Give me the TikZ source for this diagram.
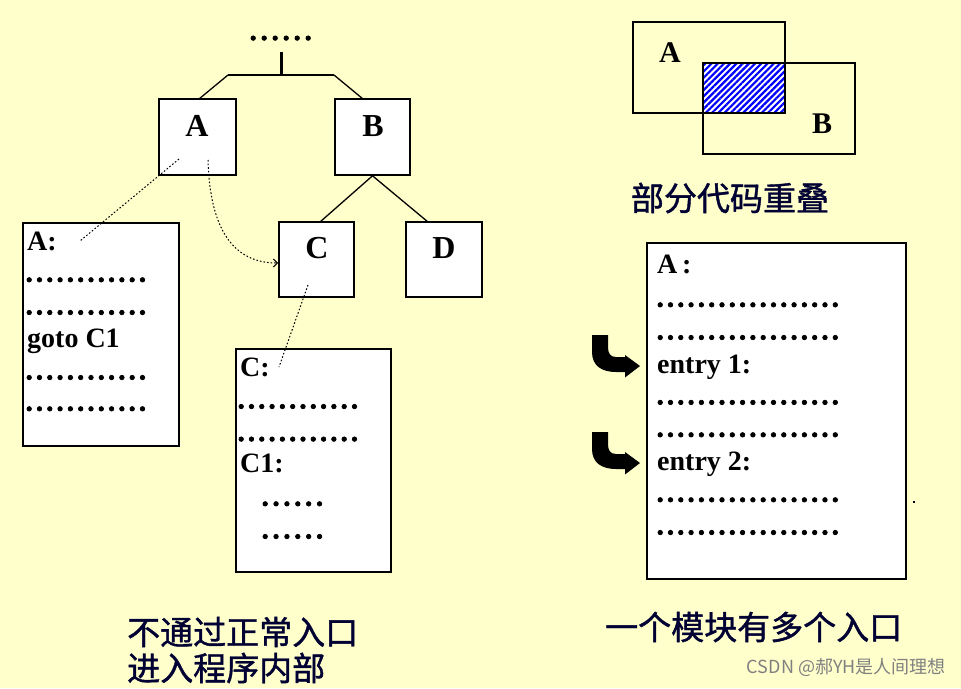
\documentclass[tikz,border=0pt]{standalone}
\usepackage{fontspec}
\setmainfont{Liberation Serif}
\newfontfamily\dotfont[BoldFeatures={FakeBold=2.5}]{Liberation Serif}
\newfontfamily\cjk{Noto Sans CJK SC}
\newfontfamily\cjkb[FakeBold=1.2]{Noto Sans CJK SC}
\usetikzlibrary{patterns.meta,arrows.meta}
\definecolor{bgyel}{HTML}{FFFFCC}
\definecolor{navy}{HTML}{000033}
\newcount\dotcnt
\newcommand\dotrow[2][10.3pt]{\dotcnt=0 \loop\makebox[#1][l]{.}\advance\dotcnt by 1 \ifnum\dotcnt<#2\repeat}
\begin{document}
\begin{tikzpicture}[x=1pt,y=-1pt,
  box/.style={draw,fill=white,line width=1.6pt,inner sep=0pt},
  boxlab/.style={inner sep=0pt,font=\fontsize{32}{36}\selectfont\bfseries},
  code/.style={anchor=base west,inner sep=0pt,font=\fontsize{28}{32}\selectfont\bfseries},
  dotline/.style={anchor=base west,inner sep=0pt,font=\dotfont\fontsize{28}{32}\selectfont\bfseries},
  cn/.style={inner sep=0pt,text=navy,font=\cjkb\fontsize{33}{38}\selectfont},
  tree/.style={line width=1.3pt},
  conn/.style={line width=1pt,dash pattern=on 1.6pt off 2pt}]
% background
\fill[bgyel] (0,0) rectangle (961,688);
\useasboundingbox (0,0) rectangle (961,688);

% ---------- tree ----------
\node[dotline] (topdots) at (249.5,40) {\dotrow[11pt]{6}};
\coordinate (top) at (281,52);
\coordinate (j) at (281,75);
\coordinate (jl) at (228,75);
\coordinate (jr) at (334,75);
\node[box,minimum width=77pt,minimum height=76pt] (A) at (197.5,137) {};
\node[box,minimum width=75pt,minimum height=76pt] (B) at (372.5,137) {};
\node[box,minimum width=75pt,minimum height=75pt] (C) at (316.5,259.5) {};
\node[box,minimum width=76pt,minimum height=75pt] (D) at (444,259.5) {};
\node[boxlab] (Al) at (197,126) {A};
\node[boxlab] (Bl) at (373,126) {B};
\node[boxlab] (Cl) at (317,248) {C};
\node[boxlab] (Dl) at (444,248) {D};
\coordinate (Bin) at (363,99);
\coordinate (Ain) at (199,99);
\coordinate (Cin) at (320,222);
\coordinate (Din) at (428,222);
\draw[line width=3pt] (top) -- (j);
\draw[line width=2.6pt] (jl) -- (jr);
\draw[tree] (jl) -- (Ain);
\draw[tree] (jr) -- (Bin);
\draw[tree] (B.south) -- (Cin);
\draw[tree] (B.south) -- (Din);

% ---------- code boxes ----------
\node[box,minimum width=156pt,minimum height=223pt] (LA) at (101,334.5) {};
\node[box,minimum width=155pt,minimum height=223pt] (LC) at (313.5,460.5) {};
\node[box,minimum width=259pt,minimum height=336pt] (RA) at (776.5,411) {};

\node[code] (la1) at (27,250) {A:};
\node[dotline] (la2) at (25.5,281.7) {\dotrow{12}};
\node[dotline] (la3) at (25.5,314.4) {\dotrow{12}};
\node[code] (la4) at (27,347) {goto C1};
\node[dotline] (la5) at (25.5,379.4) {\dotrow{12}};
\node[dotline] (la6) at (25.5,410.7) {\dotrow{12}};

\node[code] (lc1) at (240,376) {C:};
\node[dotline] (lc2) at (237.5,408.4) {\dotrow{12}};
\node[dotline] (lc3) at (237.5,441) {\dotrow{12}};
\node[code] (lc4) at (240,472) {C1:};
\node[dotline] (lc5) at (261.5,505.7) {\dotrow[10.87pt]{6}};
\node[dotline] (lc6) at (261.5,538.4) {\dotrow[10.87pt]{6}};

\node[code] (ra1) at (657,273) {A\,:};
\node[dotline] (ra2) at (656.5,306.7) {\dotrow{18}};
\node[dotline] (ra3) at (656.5,339.4) {\dotrow{18}};
\node[code] (ra4) at (657,373) {entry 1:};
\node[dotline] (ra5) at (656.5,404.3) {\dotrow{18}};
\node[dotline] (ra6) at (656.5,436.7) {\dotrow{18}};
\node[code] (ra7) at (657,470) {entry 2:};
\node[dotline] (ra8) at (656.5,501.7) {\dotrow{18}};
\node[dotline] (ra9) at (656.5,534.4) {\dotrow{18}};
\fill (913,501) rectangle (915,503);

% ---------- dotted connectors ----------
\coordinate (a1) at (179,159);
\coordinate (a2) at (80,241);
\coordinate (a3) at (208,160);
\coordinate (c1) at (278,263);
\coordinate (c2) at (308,285);
\coordinate (c3) at (279,367);
\draw[conn] (a1) -- (a2);
\draw[conn,-{Straight Barb[length=4pt,width=8pt]}] (a3) .. controls (210,232) and (235,263) .. (c1);
\draw[conn] (c2) -- (c3);

% ---------- entry arrows ----------
\foreach \dy in {0,97}{
  \fill[shift={(0,\dy)}] (592,335) -- (592,352) .. controls (592,366) and (602,372) .. (616,372)
    -- (625,372) -- (625,377.5) -- (640,366) -- (625,355) -- (625,357) -- (616,357)
    .. controls (610,357) and (608,353) .. (608,347) -- (608,335) -- cycle;
}

% ---------- overlap ----------
\draw[line width=1.4pt] (633,22) rectangle (785,113);
\draw[line width=1.4pt] (703,63) rectangle (855,154);
\fill[white] (703,63) rectangle (785,113);
\fill[pattern={Lines[angle=45,distance=4.4pt,line width=2.2pt]},pattern color=blue] (703,63) rectangle (785,113);
\draw[line width=2pt] (703,63) rectangle (785,113);
\node[boxlab,font=\fontsize{30}{34}\selectfont\bfseries] (oA) at (670,53) {A};
\node[boxlab,font=\fontsize{30}{34}\selectfont\bfseries] (oB) at (822,124) {B};

% ---------- captions ----------
\node[cn] (cap1) at (730,198) {部分代码重叠};
\node[cn,anchor=west] (cap2) at (127,632) {不通过正常入口};
\node[cn,anchor=west] (cap3) at (127,668) {进入程序内部};
\node[cn,anchor=west] (cap4) at (605,627) {一个模块有多个入口};
\node[inner sep=0pt,anchor=east,text=gray,font=\cjk\fontsize{18}{20}\selectfont] (wm) at (946,668) {CSDN @郝YH是人间理想};
\end{tikzpicture}
\end{document}
